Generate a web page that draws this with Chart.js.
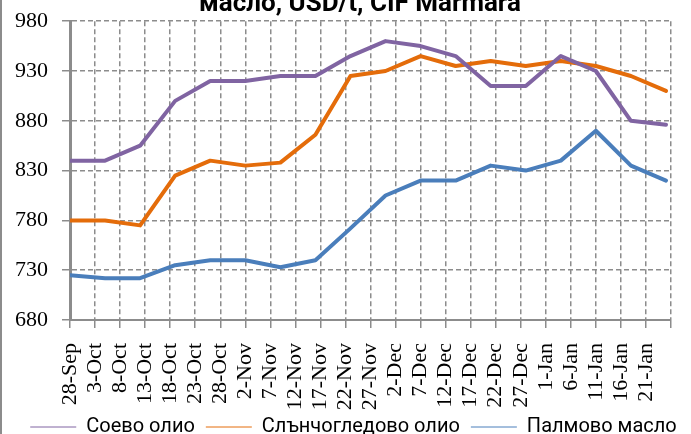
<!DOCTYPE html>
<html>
<head>
<meta charset="utf-8">
<script src="https://cdn.jsdelivr.net/npm/chart.js@4.4.0/dist/chart.umd.min.js"></script>
<style>
  html, body { margin: 0; padding: 0; background: #fff; overflow: hidden; }
  /* the first title line sits above the visible picture */
  #wrap { position: absolute; left: 0; top: -11px; width: 691px; height: 445px; }
</style>
</head>
<body>
<div id="wrap"><canvas id="myChart"></canvas></div>
<script>
// weekly quotes, day offset counted from 28-Sep
const weekDates = ["28-Sep", "5-Oct", "12-Oct", "19-Oct", "26-Oct", "2-Nov", "9-Nov", "16-Nov", "23-Nov",
  "30-Nov", "7-Dec", "14-Dec", "21-Dec", "28-Dec", "4-Jan", "11-Jan", "18-Jan", "25-Jan"];
const dayOffset = [0, 7, 14, 21, 28, 35, 42, 49, 56, 63, 70, 77, 84, 91, 98, 105, 112, 119];

const soyOil = [840, 840, 855, 900, 920, 920, 925, 925, 945, 960, 955, 945, 915, 915, 945, 930, 880, 876];
const sunOil = [780, 780, 775, 825, 840, 835, 838, 866, 925, 930, 945, 935, 940, 935, 940, 935, 925, 910];
const palmOil = [725, 722, 722, 735, 740, 740, 733, 740, 772, 805, 820, 820, 835, 830, 840, 870, 835, 820];

// axis labels every 5 days
const tickLabels = ["28-Sep", "3-Oct", "8-Oct", "13-Oct", "18-Oct", "23-Oct", "28-Oct", "2-Nov", "7-Nov",
  "12-Nov", "17-Nov", "22-Nov", "27-Nov", "2-Dec", "7-Dec", "12-Dec", "17-Dec", "22-Dec", "27-Dec",
  "1-Jan", "6-Jan", "11-Jan", "16-Jan", "21-Jan"];

const seriesNames = ["Соево олио", "Слънчогледово олио", "Палмово масло"];
const titleText = "  масло, USD/t, CIF Marmara";

function points(values) {
  return values.map(function (v, i) {
    return { x: dayOffset[i], y: v };
  });
}

// let tick labels run outside the scale box (no clipping)
function noLabelClip(s) {
  s._computeLabelArea = function () {
    return undefined;
  };
}

const frame = {
  id: "frame",
  beforeDraw: function (chart) {
    const c = chart.ctx;
    c.save();
    c.fillStyle = "#fff";
    c.fillRect(0, 0, chart.width, chart.height);
    c.strokeStyle = "#8c8c8c";
    c.lineWidth = 2;
    c.beginPath();
    c.moveTo(1, 0);
    c.lineTo(1, chart.height);
    c.stroke();
    c.restore();
  },
};

const gridGray = "#8c8c8c";
const serif = { family: "'Liberation Serif', 'Times New Roman', serif", size: 22 };

new Chart(document.getElementById("myChart"), {
  type: "line",
  data: {
    datasets: [
      { label: seriesNames[0], data: points(soyOil), borderColor: "#8064A2", backgroundColor: "#8064A2" },
      { label: seriesNames[1], data: points(sunOil), borderColor: "#E46C0A", backgroundColor: "#E46C0A" },
      { label: seriesNames[2], data: points(palmOil), borderColor: "#4A7EBB", backgroundColor: "#4A7EBB" },
    ],
  },
  options: {
    responsive: true,
    maintainAspectRatio: false,
    animation: false,
    layout: { padding: { left: 16, right: 0, top: 0, bottom: -13 } },
    elements: {
      line: { borderWidth: 4, tension: 0, borderCapStyle: "round", borderJoinStyle: "round" },
      point: { radius: 0, hoverRadius: 0 },
    },
    scales: {
      x: {
        type: "linear",
        min: 0,
        max: 120,
        afterFit: function (s) {
          s.height = 86;
          s.paddingRight = 20;
          noLabelClip(s);
        },
        ticks: {
          stepSize: 5,
          autoSkip: false,
          minRotation: 90,
          maxRotation: 90,
          padding: 15,
          color: "#000",
          font: serif,
          callback: function (v) {
            return tickLabels[v / 5] || "";
          },
        },
        grid: {
          color: gridGray,
          lineWidth: 1.5,
          tickLength: 8,
          tickColor: gridGray,
          tickBorderDash: [],
        },
        border: { display: true, color: gridGray, width: 2, dash: [5, 3] },
      },
      y: {
        min: 680,
        max: 980,
        afterFit: function (s) {
          s.width = 54;
          noLabelClip(s);
        },
        ticks: { stepSize: 50, color: "#000", font: serif, padding: 14 },
        grid: {
          color: gridGray,
          lineWidth: 1.5,
          tickLength: 8,
          tickColor: gridGray,
          tickBorderDash: [],
        },
        border: { display: true, color: gridGray, width: 3, dash: [5, 3] },
      },
    },
    plugins: {
      title: {
        display: true,
        text: titleText,
        color: "#000",
        font: { family: "Roboto", size: 26, weight: "bold" },
        padding: { top: 0, bottom: 1 },
      },
      legend: {
        position: "bottom",
        labels: {
          usePointStyle: true,
          pointStyle: "line",
          pointStyleWidth: 46,
          color: "#000",
          padding: 11,
          font: { family: "Roboto", size: 20 },
        },
      },
      tooltip: { enabled: false },
    },
  },
  plugins: [frame],
});
</script>
</body>
</html>
